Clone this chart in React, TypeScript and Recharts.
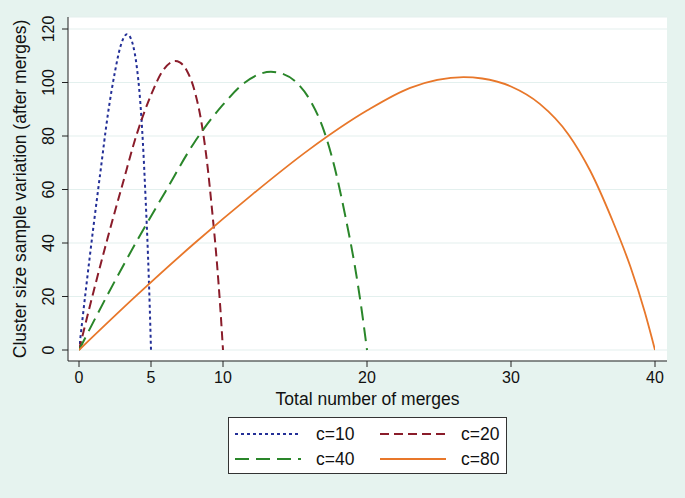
import { LineChart, Line, XAxis, YAxis, CartesianGrid } from "recharts";

// values
const c10X = [0, 0.5, 1, 1.5, 2, 2.5, 2.875, 3.33, 3.5, 3.75, 4, 4.25, 4.4375, 4.625, 4.7875, 4.9125, 5];
const c10Y = [0, 23.6, 46, 67.1, 87.9, 104.1, 113.4, 118, 117.4, 114, 106.4, 93.1, 77.5, 56.6, 35.9, 16.2, 0];

const c20X = [0, 1, 2, 3, 4, 5, 5.75, 6.67, 7, 7.5, 8, 8.5, 8.875, 9.25, 9.575, 9.825, 10];
const c20Y = [0, 21.6, 42.1, 61.5, 80.5, 95.3, 103.8, 108, 107.5, 104.3, 97.4, 85.2, 71, 51.8, 32.8, 14.8, 0];

const c40X = [0, 2, 4, 6, 8, 10, 11.5, 13.33, 14, 15, 16, 17, 17.75, 18.5, 19.15, 19.65, 20];
const c40Y = [0, 20.8, 40.6, 59.2, 77.5, 91.7, 99.9, 104, 103.5, 100.5, 93.8, 82.1, 68.3, 49.9, 31.6, 14.2, 0];

const c80X = [0, 4, 8, 12, 16, 20, 23, 26.7, 28, 30, 32, 34, 35.5, 37, 38.3, 39.3, 40];
const c80Y = [0, 20.4, 39.8, 58, 75, 89.5, 98, 102, 101.5, 98.5, 92, 80.5, 67, 49, 31, 14, 0];

const xTicks = [0, 5, 10, 20, 30, 40];
const yTicks = [0, 20, 40, 60, 80, 100, 120];

const seriesNames = ["c=10", "c=20", "c=40", "c=80"];
const seriesColors = ["#232f97", "#8a1c2a", "#2a862a", "#e8772a"];
const seriesDash = ["3 3", "9 5", "14 7", undefined];

const toPoints = (xs: number[], ys: number[]) => xs.map((x, i) => ({ x, y: ys[i] }));
const seriesData = [
  toPoints(c10X, c10Y),
  toPoints(c20X, c20Y),
  toPoints(c40X, c40Y),
  toPoints(c80X, c80Y),
];

const FONT = '"Liberation Sans", Arial, sans-serif';

// Stata-style vertical tick labels on the y axis
const YTick = (props: any) => {
  const { x, y, payload } = props;
  const tx = x - 6;
  return (
    <text
      x={tx}
      y={y}
      transform={`rotate(-90 ${tx} ${y})`}
      textAnchor="middle"
      fontSize={16}
      fontFamily={FONT}
      fill="#111"
    >
      {payload.value}
    </text>
  );
};

const LegendBox = () => (
  <div
    style={{
      position: "absolute",
      left: 228,
      top: 417,
      width: 277,
      height: 55,
      border: "1px solid #333",
      background: "#fff",
      fontFamily: FONT,
      fontSize: 17.5,
      color: "#111",
    }}
  >
    {seriesNames.map((name, i) => {
      const col = i % 2;
      const row = Math.floor(i / 2);
      const left = col === 0 ? 6 : 151;
      const top = row === 0 ? 16 : 41;
      return (
        <div key={name} style={{ position: "absolute", left, top: top - 10, height: 20, display: "flex", alignItems: "center" }}>
          <svg width={66} height={20}>
            <line
              x1={0}
              y1={10}
              x2={66}
              y2={10}
              stroke={seriesColors[i]}
              strokeWidth={2}
              strokeDasharray={seriesDash[i]}
            />
          </svg>
          <span style={{ marginLeft: 15, lineHeight: "20px" }}>{name}</span>
        </div>
      );
    })}
  </div>
);

export default function App() {
  return (
    <div
      style={{
        position: "fixed",
        left: 0,
        top: 0,
        width: 685,
        height: 498,
        background: "#e6f3ef",
      }}
    >
      <LineChart
        width={685}
        height={498}
        margin={{ top: 17, right: 18, bottom: 93, left: 0 }}
        style={{ fontFamily: FONT }}
      >
        <CartesianGrid
          vertical={false}
          fill="#ffffff"
          stroke="#e3f0ee"
          strokeWidth={1.2}
        />
        <XAxis
          type="number"
          dataKey="x"
          domain={[0, 40]}
          ticks={xTicks}
          padding={{ left: 11, right: 12 }}
          height={44}
          tickSize={6}
          tickMargin={5}
          stroke="#222"
          tick={{ fontSize: 16, fill: "#111", fontFamily: FONT }}
          label={{ value: "Total number of merges", position: "insideBottom", offset: 0, fontSize: 17.5, fill: "#111", fontFamily: FONT }}
          allowDataOverflow
        />
        <YAxis
          type="number"
          domain={[0, 120]}
          ticks={yTicks}
          padding={{ top: 12, bottom: 11 }}
          width={68}
          tickSize={6}
          tickMargin={2}
          stroke="#222"
          tick={<YTick />}
          label={{
            value: "Cluster size sample variation (after merges)",
            angle: -90,
            position: "insideLeft",
            offset: 20,
            fontSize: 17.5,
            fill: "#111",
            fontFamily: FONT,
            style: { textAnchor: "middle" },
          }}
        />
        {seriesData.map((d, i) => (
          <Line
            key={seriesNames[i]}
            data={d}
            dataKey="y"
            name={seriesNames[i]}
            type="monotone"
            stroke={seriesColors[i]}
            strokeWidth={i === 3 ? 1.8 : 2}
            strokeDasharray={seriesDash[i]}
            dot={false}
            activeDot={false}
            isAnimationActive={false}
          />
        ))}
      </LineChart>
      <LegendBox />
    </div>
  );
}
